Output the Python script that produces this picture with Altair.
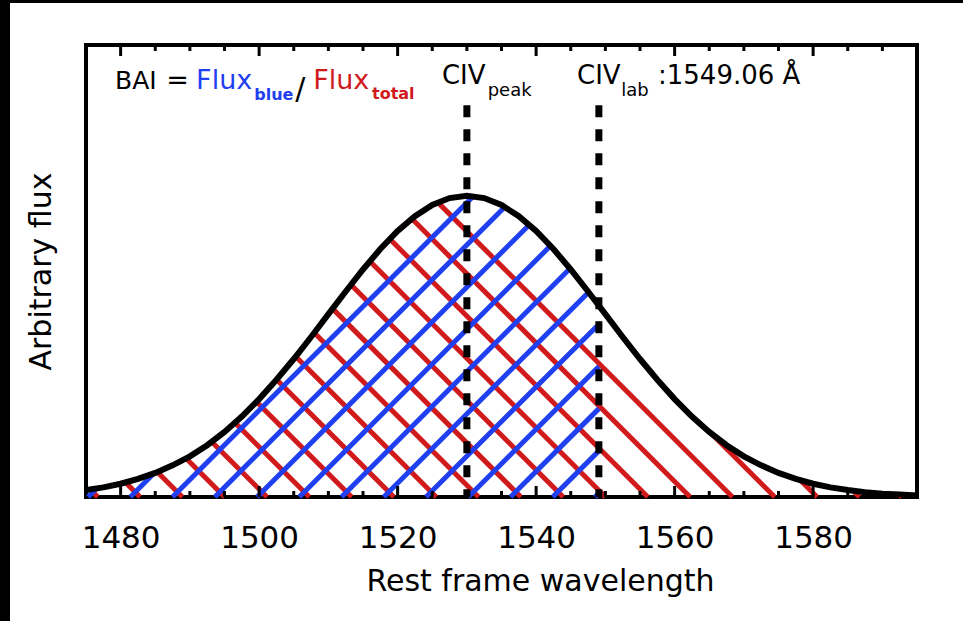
import altair as alt
import numpy as np
import pandas as pd

FONT = "DejaVu Sans"
BLUE = "#1f3ff0"
RED = "#d01a1c"

# ---- data ----
wavelength = [1475.0, 1477.5, 1480.0, 1482.5, 1485.0, 1487.5, 1490.0, 1492.5, 1495.0, 1497.5,
              1500.0, 1502.5, 1505.0, 1507.5, 1510.0, 1512.5, 1515.0, 1517.5, 1520.0, 1522.5,
              1525.0, 1527.5, 1530.0, 1532.5, 1535.0, 1537.5, 1540.0, 1542.5, 1545.0, 1547.5,
              1550.0, 1552.5, 1555.0, 1557.5, 1560.0, 1562.5, 1565.0, 1567.5, 1570.0, 1572.5,
              1575.0, 1577.5, 1580.0, 1582.5, 1585.0, 1587.5, 1590.0, 1592.5, 1595.0]
flux = [0.023, 0.032, 0.044, 0.060, 0.080, 0.105, 0.135, 0.172, 0.216, 0.267,
        0.325, 0.389, 0.458, 0.531, 0.607, 0.682, 0.755, 0.823, 0.883, 0.932,
        0.969, 0.992, 1.000, 0.992, 0.969, 0.932, 0.883, 0.823, 0.755, 0.682,
        0.607, 0.531, 0.458, 0.389, 0.325, 0.267, 0.216, 0.172, 0.135, 0.105,
        0.080, 0.060, 0.044, 0.032, 0.023, 0.016, 0.011, 0.008, 0.005]
marker_wl = [1530.0, 1549.06]          # CIV peak, CIV lab
marker_top = [1.3, 1.3]
major_ticks = [1480, 1500, 1520, 1540, 1560, 1580]
minor_ticks = [1485, 1490, 1495, 1505, 1510, 1515, 1525, 1530, 1535, 1545, 1550, 1555,
               1565, 1570, 1575, 1585, 1590]

# ---- layout ----
X0, X1, Y1 = 1475.0, 1595.0, 1.5
W, H = 831, 452
xscale = alt.Scale(domain=[X0, X1], nice=False, zero=False)
yscale = alt.Scale(domain=[0, Y1], nice=False, zero=False)

xaxis = alt.Axis(values=major_ticks, title="Rest frame wavelength", format="d",
                 labelFontSize=31, titleFontSize=30, labelFont=FONT, titleFont=FONT,
                 titleFontWeight="normal", ticks=False, domain=False, grid=False,
                 labelPadding=26, labelColor="black", titleColor="black",
                 titleX=454, titleY=93, titleBaseline="alphabetic", titleAlign="center",
                 labelFlush=False)
yaxis = alt.Axis(title="Arbitrary flux", labels=False, ticks=False, domain=False, grid=False,
                 titleFontSize=30, titleFont=FONT, titleFontWeight="normal", titleColor="black",
                 titleX=-36, titleY=226, titleAngle=270, titleBaseline="alphabetic",
                 titleAlign="center")


def X(f):
    return alt.X(f, type="quantitative", scale=xscale, axis=xaxis)


def Y(f):
    return alt.Y(f, type="quantitative", scale=yscale, axis=yaxis)


# ---- hatch segments clipped by the curve ----
k = (W / (X1 - X0)) / (H / Y1)   # 45 degree lines in pixel space
gx = np.arange(X0, X1 + 1e-9, 0.01)
gf = np.interp(gx, wavelength, flux)

red_rows = []
for b in np.arange(1476.7, X1, 6.11):
    m = gx <= b
    xx = gx[m][::-1]
    ff = gf[m][::-1]
    hit = np.nonzero(k * (b - xx) >= ff)[0]
    xe = xx[hit[0]] if len(hit) else X0
    red_rows.append({"x0": b, "y0": 0.0, "x1": xe, "y1": k * (b - xe)})

blue_rows = []
for b in np.arange(1475.3, marker_wl[1], 6.1):
    m = (gx >= b) & (gx <= marker_wl[1])
    xx = gx[m]
    ff = gf[m]
    hit = np.nonzero(k * (xx - b) >= ff)[0]
    xe = xx[hit[0]] if len(hit) else marker_wl[1]
    blue_rows.append({"x0": b, "y0": 0.0, "x1": xe, "y1": k * (xe - b)})

red = alt.Chart(pd.DataFrame(red_rows)).mark_rule(color=RED, strokeWidth=5, strokeCap="butt").encode(
    x=X("x0"), y=Y("y0"), x2="x1", y2="y1")
blue = alt.Chart(pd.DataFrame(blue_rows)).mark_rule(color=BLUE, strokeWidth=5, strokeCap="butt").encode(
    x=X("x0"), y=Y("y0"), x2="x1", y2="y1")

curve = alt.Chart(pd.DataFrame({"wl": wavelength, "flux": flux})).mark_line(
    color="black", strokeWidth=6, clip=True).encode(x=X("wl"), y=Y("flux"))

dashes = alt.Chart(pd.DataFrame({"wl": marker_wl, "top": marker_top, "bot": [0, 0]})).mark_rule(
    color="black", strokeWidth=7, strokeDash=[12, 12], strokeCap="butt").encode(
    x=X("wl"), y=Y("top"), y2="bot")

tick_df_major = pd.DataFrame({"t": major_ticks})
tick_df_minor = pd.DataFrame({"t": minor_ticks})
ticks = alt.layer(
    alt.Chart(tick_df_major).mark_rule(color="black", strokeWidth=3).encode(
        x=X("t"), y=alt.value(H), y2=alt.value(H - 11)),
    alt.Chart(tick_df_major).mark_rule(color="black", strokeWidth=3).encode(
        x=X("t"), y=alt.value(0), y2=alt.value(11)),
    alt.Chart(tick_df_minor).mark_rule(color="black", strokeWidth=3).encode(
        x=X("t"), y=alt.value(H), y2=alt.value(H - 6)),
    alt.Chart(tick_df_minor).mark_rule(color="black", strokeWidth=3).encode(
        x=X("t"), y=alt.value(0), y2=alt.value(6)),
)

# ---- annotation text ----
txt_normal = pd.DataFrame({
    "t": ["BAI", "=", "Flux", "/", "Flux", "CIV", "peak", "CIV", "lab", ":1549.06 Å"],
    "x": [1479.2, 1486.6, 1490.9, 1505.2, 1507.8, 1526.4, 1533.0, 1545.9, 1552.3, 1557.6],
    "y": [1.354, 1.354, 1.354, 1.321, 1.354, 1.371, 1.331, 1.371, 1.331, 1.371],
    "c": ["black", "black", BLUE, "black", RED, "black", "black", "black", "black", "black"],
    "s": [25, 27, 27, 30, 27, 26, 18, 26, 18, 26],
})
txt_bold = pd.DataFrame({
    "t": ["blue", "total"],
    "x": [1499.3, 1516.3],
    "y": [1.318, 1.321],
    "c": [BLUE, RED],
    "s": [16, 16],
})
text_n = alt.Chart(txt_normal).mark_text(align="left", baseline="alphabetic", font=FONT).encode(
    x=X("x"), y=Y("y"), text="t:N",
    color=alt.Color("c:N", scale=None), size=alt.Size("s:Q", scale=None))
text_b = alt.Chart(txt_bold).mark_text(align="left", baseline="alphabetic", font=FONT,
                                       fontWeight="bold").encode(
    x=X("x"), y=Y("y"), text="t:N",
    color=alt.Color("c:N", scale=None), size=alt.Size("s:Q", scale=None))

# ---- scan-like black border on the left and top edges ----
one = pd.DataFrame({"a": [0]})
border = alt.layer(
    alt.Chart(one).mark_rect(color="black").encode(
        x=alt.value(-86), x2=alt.value(-76), y=alt.value(-45), y2=alt.value(576)),
    alt.Chart(one).mark_rect(color="black").encode(
        x=alt.value(-86), x2=alt.value(877), y=alt.value(-45), y2=alt.value(-42)),
)

chart = alt.layer(red, blue, dashes, curve, ticks, text_n, text_b, border).properties(
    width=W, height=H,
    padding={"left": 86, "top": 45, "right": 46, "bottom": 124},
    autosize=alt.AutoSizeParams(type="none"),
    background="white",
).configure_view(stroke="black", strokeWidth=4)

chart.save("out.html", embed_options={"renderer": "svg", "actions": False})
